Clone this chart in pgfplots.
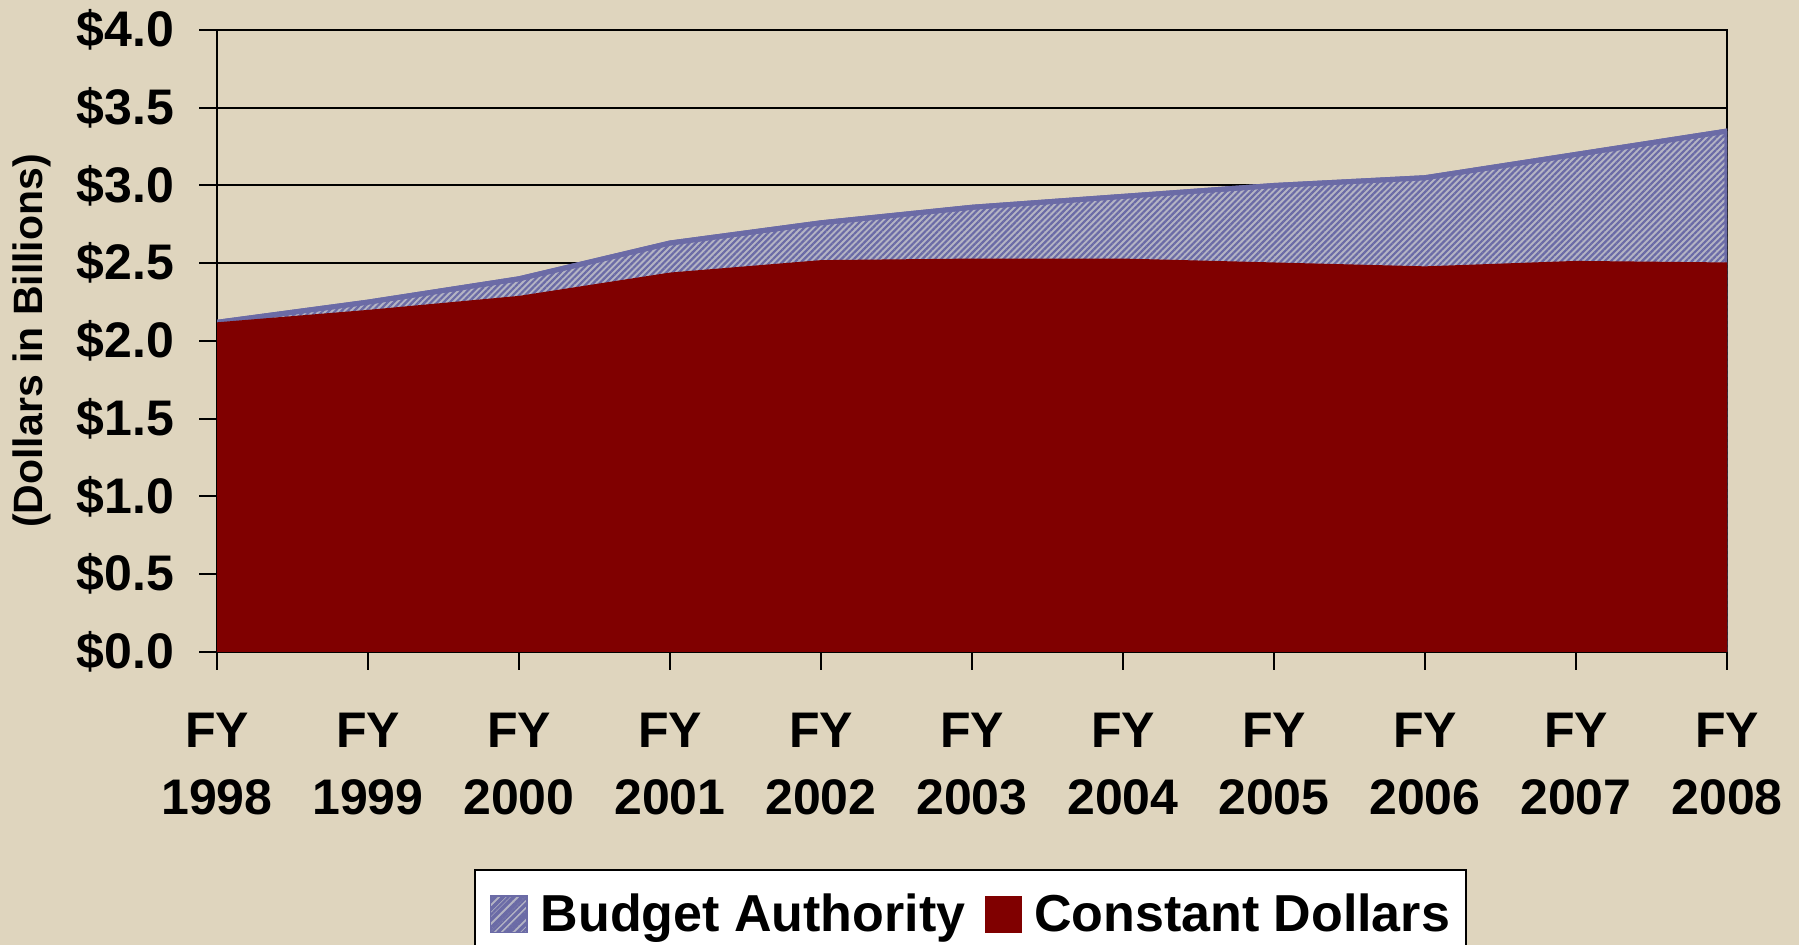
\documentclass[border=0pt]{standalone}
\usepackage{pgfplots}
\pgfplotsset{compat=1.18}
\usepackage{fontspec}
\setmainfont{Liberation Sans}
\usetikzlibrary{patterns.meta}
\definecolor{bgbeige}{HTML}{DFD5BE}
\definecolor{cdred}{HTML}{800000}
\definecolor{hatchdark}{HTML}{6B6BA6}
\definecolor{hatchlight}{HTML}{B4B4C4}
\begin{document}
\begin{tikzpicture}
\fill[bgbeige] (0,0) rectangle (899.5pt,472.5pt);
\begin{axis}[
  at={(108.5pt,146.5pt)}, anchor=south west,
  scale only axis, width=755pt, height=311pt,
  xmin=1998, xmax=2008, ymin=0, ymax=4,
  xtick={1998,1999,2000,2001,2002,2003,2004,2005,2006,2007,2008},
  xticklabels={FY\\1998,FY\\1999,FY\\2000,FY\\2001,FY\\2002,FY\\2003,FY\\2004,FY\\2005,FY\\2006,FY\\2007,FY\\2008},
  ytick={0,0.5,1,1.5,2,2.5,3,3.5,4},
  yticklabels={\$0.0,\$0.5,\$1.0,\$1.5,\$2.0,\$2.5,\$3.0,\$3.5,\$4.0},
  xtick pos=lower, ytick pos=left,
  tick align=outside, major tick length=9pt,
  tick style={black, line width=1pt},
  axis line style={black, line width=1pt},
  ymajorgrids, grid style={black, line width=1pt},
  xticklabel style={font=\fontsize{25}{33.5}\selectfont\bfseries, align=center, yshift=-18pt},
  yticklabel style={font=\fontsize{25}{30}\selectfont\bfseries, xshift=-9pt},
  ylabel={(Dollars in Billions)},
  ylabel style={font=\fontsize{20.5}{24}\selectfont\bfseries, at={(axis description cs:-0.1225,0.5)}, anchor=center},
  legend columns=2,
  legend style={at={(0.1702,-0.3489)}, anchor=north west, draw=black, line width=1pt, fill=white,
    font=\fontsize{26}{30}\selectfont\bfseries, inner xsep=7pt, inner ysep=11pt,
    nodes={inner sep=1pt},
    /tikz/every odd column/.append style={column sep=5pt},
    /tikz/every even column/.append style={column sep=9pt}},
]
\addplot[fill=hatchlight, draw=hatchdark, line width=2.5pt,
  postaction={pattern={Lines[angle=45,distance=2.2pt,line width=1.1pt]}, pattern color=hatchdark},
  legend image code/.code={\path[fill=hatchlight, draw=hatchdark, line width=0.8pt, postaction={pattern={Lines[angle=45,distance=3.5pt,line width=1.6pt]}, pattern color=hatchdark}] (0pt,-9.15pt) rectangle (18.3pt,9.15pt);}]
  coordinates {(1998,2.12) (1999,2.25) (2000,2.40) (2001,2.63) (2002,2.76) (2003,2.86) (2004,2.93) (2005,3.00) (2006,3.05) (2007,3.20) (2008,3.35)} \closedcycle;
\addlegendentry{Budget Authority}
\addplot[fill=cdred, draw=none,
  legend image code/.code={\fill[cdred] (0pt,-9.15pt) rectangle (18.3pt,9.15pt);}]
  coordinates {(1998,2.12) (1999,2.20) (2000,2.29) (2001,2.44) (2002,2.52) (2003,2.53) (2004,2.53) (2005,2.505) (2006,2.48) (2007,2.515) (2008,2.505)} \closedcycle;
\addlegendentry{Constant Dollars}
\end{axis}
\pgfresetboundingbox
\useasboundingbox (0,0) rectangle (899.5pt,472.5pt);
\end{tikzpicture}
\end{document}
